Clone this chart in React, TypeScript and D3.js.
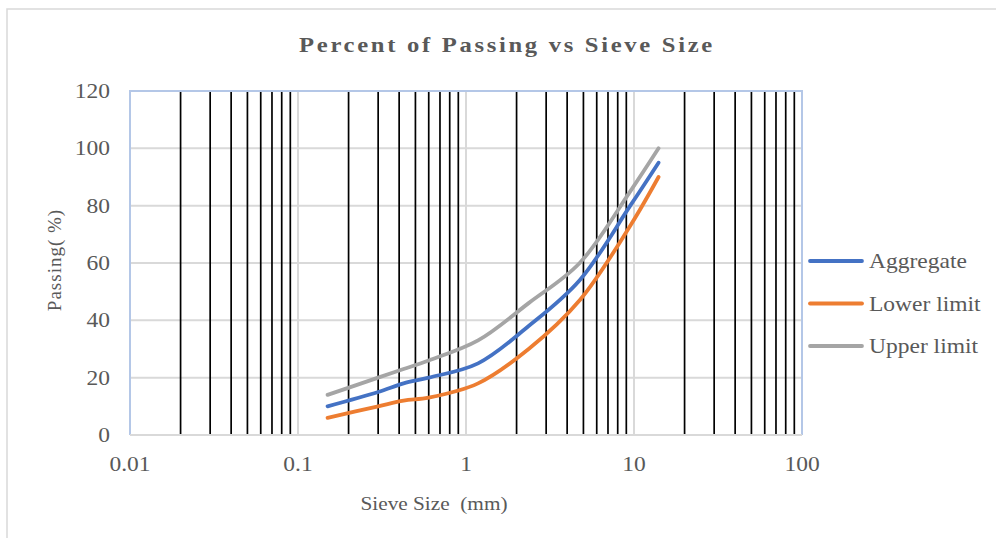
import * as React from "react";
import * as d3 from "d3";

// sieve sizes (mm) and percent passing
const sieveSizes = [0.15, 0.3, 0.425, 0.6, 1.18, 2.36, 4.75, 9.5, 14];
const aggregate = [10, 15, 18, 20, 25, 38, 54, 80, 95];
const lowerLimit = [6, 10, 12, 13, 18, 30, 47, 73, 90];
const upperLimit = [14, 20, 23, 26, 33, 46, 60, 85, 100];

const seriesNames = ["Aggregate", "Lower limit", "Upper limit"];
const seriesColors = ["#4472C4", "#ED7D31", "#A5A5A5"];
const yTicks = [0, 20, 40, 60, 80, 100, 120];
const xDecades = [0.01, 0.1, 1, 10, 100];

const W = 996;
const H = 538;
const margin = { left: 130, right: 194, top: 91, bottom: 103 };
const SX = 1.12; // horizontal stretch seen in the reference text

export default function App() {
  const x = d3.scaleLog().domain([0.01, 100]).range([margin.left, W - margin.right]);
  const y = d3.scaleLinear().domain([0, 120]).range([H - margin.bottom, margin.top]);

  // minor lines 2..9 within each decade
  const minors: number[] = [];
  for (let i = 0; i < xDecades.length - 1; i++) {
    for (let k = 2; k <= 9; k++) minors.push(xDecades[i] * k);
  }

  const line = d3
    .line<number>()
    .x((_, i) => x(sieveSizes[i]))
    .y((d) => y(d))
    .curve(d3.curveCatmullRom.alpha(0.5));

  const series = [aggregate, lowerLimit, upperLimit];
  const fontFam = "'Liberation Serif', 'Times New Roman', serif";
  const x0 = x.range()[0];
  const x1 = x.range()[1];
  const y0 = y.range()[0];
  const y1 = y.range()[1];
  const at = (px: number, py: number) => `translate(${px},${py}) scale(${SX},1)`;

  return (
    <svg
      width={W}
      height={H}
      style={{ position: "absolute", left: 0, top: 0, background: "#fff" }}
      fontFamily={fontFam}
    >
      <rect x={7} y={9} width={1000} height={540} fill="#fff" stroke="#d9d9d9" strokeWidth={1.5} />
      <text
        transform={at(507, 52)}
        textAnchor="middle"
        fontSize={22}
        fontWeight="bold"
        letterSpacing={2.4}
        fill="#595959"
      >
        Percent of Passing vs Sieve Size
      </text>

      {yTicks.map((t) => (
        <line key={"h" + t} x1={x0} x2={x1} y1={y(t)} y2={y(t)} stroke="#d9d9d9" strokeWidth={2} />
      ))}
      {xDecades.map((t) => (
        <line key={"v" + t} x1={x(t)} x2={x(t)} y1={y0} y2={y1} stroke="#d9d9d9" strokeWidth={2} />
      ))}
      {minors.map((t) => (
        <line key={"m" + t} x1={x(t)} x2={x(t)} y1={y0} y2={y1} stroke="#000" strokeWidth={1.7} />
      ))}

      <path
        d={`M${x0},${y0}V${y1}H${x1}V${y0}`}
        fill="none"
        stroke="#b4c7e7"
        strokeWidth={2}
      />
      <line x1={x0} x2={x1} y1={y0} y2={y0} stroke="#d9d9d9" strokeWidth={2} />

      {series.map((s, i) => (
        <path
          key={seriesNames[i]}
          d={line(s) || ""}
          fill="none"
          stroke={seriesColors[i]}
          strokeWidth={3.8}
          strokeLinecap="round"
          strokeLinejoin="round"
        />
      ))}

      {yTicks.map((t) => (
        <text key={"yl" + t} transform={at(110, y(t) + 7)} textAnchor="end" fontSize={21} fill="#595959">
          {t}
        </text>
      ))}
      {xDecades.map((t) => (
        <text key={"xl" + t} transform={at(x(t), 471)} textAnchor="middle" fontSize={21} fill="#595959">
          {String(t)}
        </text>
      ))}

      <text transform={at(434, 510)} textAnchor="middle" fontSize={19} fill="#595959" xmlSpace="preserve">
        Sieve Size  (mm)
      </text>
      <text
        transform={`translate(61,260) rotate(-90)`}
        textAnchor="middle"
        fontSize={19}
        letterSpacing={1}
        fill="#595959"
      >
        Passing( %)
      </text>

      {seriesNames.map((n, i) => (
        <g key={"lg" + n} transform={`translate(0,${261 + i * 42.5})`}>
          <line x1={810} x2={862} y1={0} y2={0} stroke={seriesColors[i]} strokeWidth={3.8} strokeLinecap="round" />
          <text transform={`translate(869,7) scale(${SX},1)`} fontSize={21} fill="#595959">
            {n}
          </text>
        </g>
      ))}
    </svg>
  );
}
